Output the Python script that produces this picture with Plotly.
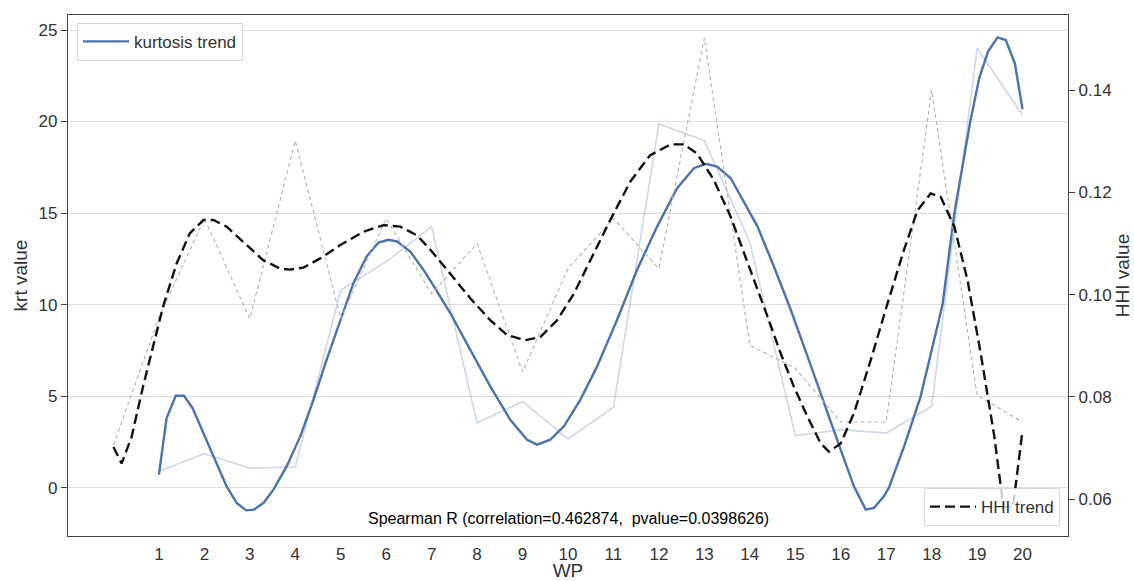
import plotly.graph_objects as go

# ---------------- data ----------------
wp = list(range(1, 21))
wp_hhi = list(range(0, 21))

kurt_raw = [0.9, 1.86, 1.07, 1.13, 10.8, 12.35, 14.26, 3.53, 4.71, 2.66,
            4.40, 19.87, 18.96, 13.4, 2.84, 3.17, 2.98, 4.44, 24.0, 20.36]

hhi_raw = [0.0706, 0.0955, 0.1149, 0.0953, 0.1301, 0.0953, 0.1149, 0.1002, 0.110, 0.0849,
           0.1051, 0.1149, 0.1051, 0.1502, 0.0901, 0.0856, 0.0751, 0.0751, 0.140, 0.0803, 0.0751]

kurt_trend_x = [1.0, 1.17, 1.37, 1.55, 1.74, 1.98, 2.27, 2.49, 2.71, 2.92, 3.09, 3.30, 3.52,
                3.81, 4.11, 4.40, 4.69, 4.99, 5.28, 5.57, 5.83, 6.05, 6.24, 6.53, 6.82, 7.0,
                7.41, 7.85, 8.29, 8.73, 9.10, 9.32, 9.61, 9.91, 10.27, 10.64, 11.08, 11.52,
                11.96, 12.40, 12.77, 13.03, 13.28, 13.58, 13.87, 14.17, 14.53, 14.90, 15.27,
                15.63, 16.0, 16.29, 16.55, 16.73, 16.95, 17.06, 17.40, 17.76, 18.0, 18.24,
                18.50, 18.85, 19.05, 19.24, 19.45, 19.63, 19.83, 20.0]
kurt_trend_y = [0.71, 3.80, 5.02, 5.02, 4.35, 2.98, 1.35, 0.07, -0.84, -1.24, -1.20, -0.84, -0.11,
                1.16, 2.80, 4.80, 6.99, 9.17, 11.17, 12.63, 13.39, 13.54, 13.45, 12.90, 11.90, 11.2,
                9.54, 7.53, 5.53, 3.71, 2.62, 2.35, 2.62, 3.35, 4.80, 6.62, 9.17, 11.90,
                14.26, 16.36, 17.45, 17.69, 17.54, 16.90, 15.6, 14.26, 12.08, 9.72, 7.17,
                4.62, 2.07, 0.07, -1.20, -1.11, -0.47, 0.0, 2.3, 5.0, 7.5, 10.0,
                15.0, 20.0, 22.4, 23.82, 24.60, 24.45, 23.18, 20.67]

hhi_trend_x = [0.0, 0.18, 0.40, 0.65, 0.87, 1.09, 1.39, 1.68, 1.98, 2.20, 2.49, 2.86, 3.30, 3.67,
               3.89, 4.18, 4.55, 4.99, 5.50, 5.94, 6.31, 6.68, 7.0, 7.41, 7.85, 8.29, 8.66, 9.06,
               9.39, 9.76, 10.13, 10.49, 10.93, 11.37, 11.81, 12.26, 12.55, 12.84, 13.21, 13.58,
               13.80, 14.09, 14.39, 14.68, 14.97, 15.27, 15.56, 15.74, 16.0, 16.29, 16.66, 17.03,
               17.39, 17.69, 17.98, 18.20, 18.50, 18.79, 19.08, 19.38, 19.58, 19.79, 20.0]
hhi_trend_y = [0.0702, 0.0670, 0.0722, 0.0820, 0.0898, 0.0976, 0.1061, 0.1120, 0.1146, 0.1146,
               0.1133, 0.1103, 0.1067, 0.1051, 0.1049, 0.1053, 0.1071, 0.1097, 0.1123, 0.1136,
               0.1133, 0.1116, 0.1085, 0.1041, 0.0993, 0.0950, 0.0921, 0.0911, 0.0917, 0.0950,
               0.1002, 0.1067, 0.1146, 0.1221, 0.1273, 0.1294, 0.1294, 0.1276, 0.1224, 0.1152,
               0.1100, 0.1028, 0.0957, 0.0885, 0.0820, 0.0761, 0.0709, 0.0693, 0.0709, 0.0768,
               0.0872, 0.0983, 0.1087, 0.1165, 0.1198, 0.1191, 0.1133, 0.1028, 0.0885, 0.0722,
               0.0585, 0.0585, 0.0735]

left_ticks = [0, 5, 10, 15, 20, 25]
right_ticks = [0.06, 0.08, 0.10, 0.12, 0.14]
right_ticktext = ["0.06", "0.08", "0.10", "0.12", "0.14"]

annotation_text = "Spearman R (correlation=0.462874,\u00a0\u00a0pvalue=0.0398626)"

# ---------------- figure ----------------
FONT = "Liberation Sans, Arial, sans-serif"
AX = "#444444"
TXT = "#333333"

fig = go.Figure()

fig.add_trace(go.Scatter(x=wp, y=kurt_raw, mode="lines", yaxis="y",
                         line=dict(color="rgba(76,114,176,0.28)", width=1.6),
                         showlegend=False, hoverinfo="skip"))
fig.add_trace(go.Scatter(x=kurt_trend_x, y=kurt_trend_y, mode="lines", yaxis="y",
                         name="kurtosis trend", legend="legend",
                         line=dict(color="#4C72B0", width=2.4)))
fig.add_trace(go.Scatter(x=wp_hhi, y=hhi_raw, mode="lines", yaxis="y2",
                         line=dict(color="#b4b4b4", width=1.1, dash="4px,3px"),
                         showlegend=False, hoverinfo="skip"))
fig.add_trace(go.Scatter(x=hhi_trend_x, y=hhi_trend_y, mode="lines", yaxis="y2",
                         name="HHI trend", legend="legend2",
                         line=dict(color="#111111", width=2.4, dash="10px,5px")))

fig.add_annotation(text=annotation_text, xref="paper", yref="paper",
                   x=0.5, y=0.033, xanchor="center", yanchor="middle",
                   showarrow=False, font=dict(family=FONT, size=16, color="black"))

fig.update_layout(
    width=1134, height=581,
    margin=dict(l=68, r=66, t=15, b=45, autoexpand=False),
    paper_bgcolor="white", plot_bgcolor="white",
    font=dict(family=FONT, color=TXT),
    xaxis=dict(range=[-1, 21], tickvals=wp, ticktext=[str(v) for v in wp],
               automargin=False,
               showline=True, linecolor=AX, linewidth=1.3, mirror=True,
               showgrid=False, zeroline=False,
               ticks="outside", ticklen=2, tickcolor="rgba(0,0,0,0)",
               tickfont=dict(size=17, color=TXT),
               title=dict(text="WP", font=dict(size=19, color=TXT), standoff=9)),
    yaxis=dict(range=[-2.64, 25.82], tickvals=left_ticks,
               automargin=False,
               showline=True, linecolor=AX, linewidth=1.3, mirror=True,
               showgrid=True, gridcolor="#dedede", gridwidth=1, zeroline=False,
               ticks="outside", ticklen=6, tickcolor=AX, tickwidth=1.2,
               tickfont=dict(size=17, color=TXT),
               title=dict(text="krt value", font=dict(size=19, color=TXT), standoff=5)),
    yaxis2=dict(range=[0.0528, 0.1547], tickvals=right_ticks, ticktext=right_ticktext,
                automargin=False,
                overlaying="y", side="right",
                showline=True, linecolor=AX, linewidth=1.3,
                showgrid=False, zeroline=False,
                ticks="outside", ticklen=6, tickcolor=AX, tickwidth=1.2,
                tickfont=dict(size=17, color=TXT),
                title=dict(text="HHI value", font=dict(size=19, color=TXT), standoff=4)),
    legend=dict(x=0.009, y=0.985, xanchor="left", yanchor="top",
                bgcolor="rgba(255,255,255,0.8)", bordercolor="#d8d8d8", borderwidth=1,
                font=dict(size=17, color=TXT), itemwidth=46),
    legend2=dict(x=0.992, y=0.019, xanchor="right", yanchor="bottom",
                 bgcolor="rgba(255,255,255,0.8)", bordercolor="#d8d8d8", borderwidth=1,
                 font=dict(size=17, color=TXT), itemwidth=46),
)

fig.write_html("out.html", config={"displayModeBar": False},
               post_script="document.body.style.margin='0';document.body.style.overflow='hidden';")
